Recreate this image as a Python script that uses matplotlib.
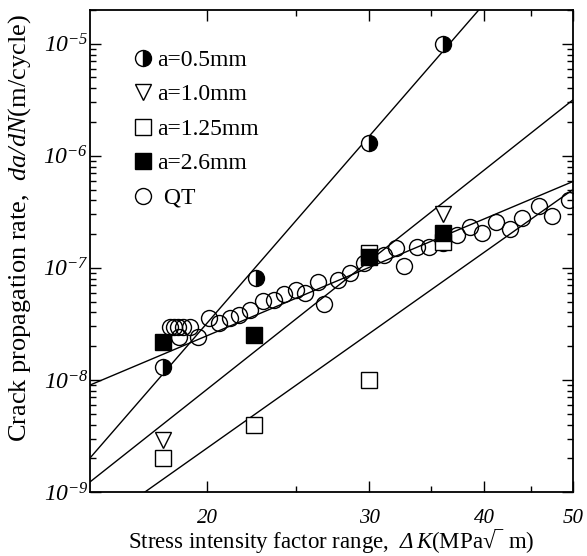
import matplotlib
matplotlib.use("Agg")
import matplotlib.pyplot as plt
from matplotlib.ticker import FixedLocator, FixedFormatter, LogLocator, NullFormatter
import numpy as np

plt.rcParams['font.family'] = ['Liberation Serif', 'DejaVu Serif']
plt.rcParams['mathtext.fontset'] = 'custom'
plt.rcParams['mathtext.rm'] = 'Liberation Serif:italic'
plt.rcParams['mathtext.it'] = 'Liberation Serif:italic'
plt.rcParams['mathtext.bf'] = 'Liberation Serif:bold'
plt.rcParams['mathtext.default'] = 'it'

# ---- data ----
a05_x = [17.9, 22.6, 30.0, 36.1]
a05_y = [1.31e-8, 8.1e-8, 1.3e-6, 1.0e-5]

a10_x = [17.9, 36.1]
a10_y = [2.91e-9, 3.03e-7]

a125_x = [17.9, 22.5, 30.0, 30.0, 36.1]
a125_y = [2.0e-9, 3.96e-9, 1.0e-8, 1.36e-7, 1.71e-7]

a26_x = [17.9, 22.5, 30.0, 36.1]
a26_y = [2.18e-8, 2.52e-8, 1.25e-7, 2.05e-7]

qt_x = [18.22, 18.40, 18.60, 18.83, 19.16, 18.64, 19.55, 20.10, 20.61, 21.14,
        21.62, 22.23, 22.97, 23.62, 24.23, 24.96, 25.54, 26.38, 26.79, 27.75,
        28.60, 29.62, 31.16, 32.12, 32.77, 33.78, 34.82, 36.06, 37.36, 38.60,
        39.78, 41.22, 42.70, 44.00, 45.92, 47.46, 49.52]
qt_y = [2.97e-8, 2.97e-8, 2.97e-8, 2.97e-8, 2.97e-8, 2.42e-8, 2.42e-8, 3.58e-8, 3.23e-8, 3.58e-8,
        3.80e-8, 4.22e-8, 5.07e-8, 5.18e-8, 5.86e-8, 6.37e-8, 5.98e-8, 7.50e-8, 4.77e-8, 7.82e-8,
        9.02e-8, 1.11e-7, 1.31e-7, 1.51e-7, 1.04e-7, 1.54e-7, 1.54e-7, 1.67e-7, 1.97e-7, 2.32e-7,
        2.05e-7, 2.58e-7, 2.23e-7, 2.79e-7, 3.58e-7, 2.91e-7, 4.05e-7]

# fitted lines (end points)
fit1_x = [14.9, 39.5]
fit1_y = [2.01e-9, 2.01e-5]
fit2_x = [14.9, 50.0]
fit2_y = [1.23e-9, 3.16e-6]
fit3_x = [14.9, 50.0]
fit3_y = [9.0e-9, 5.9e-7]
fit4_x = [17.1, 50.0]
fit4_y = [1.0e-9, 5.0e-7]

x_major = [20, 30, 40, 50]
x_major_labels = ['20', '30', '40', '50']
x_minor = [25, 35, 45]
y_major = [1e-9, 1e-8, 1e-7, 1e-6, 1e-5]
y_major_labels = [r'$10^{-9}$', r'$10^{-8}$', r'$10^{-7}$', r'$10^{-6}$', r'$10^{-5}$']

# ---- figure ----
fig = plt.figure(figsize=(5.87, 5.56), dpi=100)
ax = fig.add_axes([90/587, 1-492/556, (573-90)/587, (492-10)/556])
ax.set_xscale('log')
ax.set_yscale('log')

lw = 1.0
for fx, fy in [(fit1_x, fit1_y), (fit2_x, fit2_y), (fit3_x, fit3_y), (fit4_x, fit4_y)]:
    ax.plot(fx, fy, color='black', lw=lw, zorder=2)

ms = 11.5
ax.plot(qt_x, qt_y, linestyle='none', marker='o', ms=ms, mfc='none', mec='black', mew=1.0,
        label=' QT', zorder=3)
ax.plot(a125_x, a125_y, linestyle='none', marker='s', ms=ms, mfc='white', mec='black', mew=1.0,
        label='a=1.25mm', zorder=4)
ax.plot(a26_x, a26_y, linestyle='none', marker='s', ms=ms, mfc='black', mec='black', mew=1.0,
        label='a=2.6mm', zorder=5)
ax.plot(a10_x, a10_y, linestyle='none', marker='v', ms=ms, mfc='white', mec='black', mew=1.0,
        label='a=1.0mm', zorder=5)
ax.plot(a05_x, a05_y, linestyle='none', marker='o', ms=ms, fillstyle='right', mfc='black',
        markerfacecoloralt='white', mec='black', mew=1.0, label='a=0.5mm', zorder=6)

ax.set_xlim(14.9, 50)
ax.set_ylim(1e-9, 2.0e-5)

ax.xaxis.set_major_locator(FixedLocator(x_major))
ax.xaxis.set_major_formatter(FixedFormatter(x_major_labels))
ax.xaxis.set_minor_locator(FixedLocator(x_minor))
ax.xaxis.set_minor_formatter(NullFormatter())
ax.yaxis.set_major_locator(FixedLocator(y_major))
ax.yaxis.set_major_formatter(FixedFormatter(y_major_labels))
ax.yaxis.set_minor_locator(LogLocator(base=10, subs=np.arange(2, 10)))
ax.yaxis.set_minor_formatter(NullFormatter())

ax.tick_params(which='both', direction='in', top=True, right=True, width=1.0)
ax.tick_params(which='major', length=8)
ax.tick_params(which='minor', length=4)
for lab in ax.get_xticklabels():
    lab.set_fontstyle('italic')
    lab.set_fontsize(15)
for lab in ax.get_yticklabels():
    lab.set_fontsize(17)
ax.tick_params(axis='x', pad=12)
ax.tick_params(axis='y', pad=1)
for sp in ax.spines.values():
    sp.set_linewidth(1.3)

ax.set_xlabel('Stress intensity factor range,  $\\Delta\\,K$(MPa\u221a\u203e m)', fontsize=16.5)
ax.xaxis.set_label_coords(0.5, -0.073)
ax.set_ylabel(r'Crack propagation rate,  $da/dN$(m/cycle)', fontsize=19)
ax.yaxis.set_label_coords(-0.118, 0.548)

handles, labels = ax.get_legend_handles_labels()
order = ['a=0.5mm', 'a=1.0mm', 'a=1.25mm', 'a=2.6mm', ' QT']
hmap = dict(zip(labels, handles))
leg = ax.legend([hmap[k] for k in order], order, loc='upper left',
                bbox_to_anchor=(0.0714, 0.938), frameon=False, fontsize=17,
                handlelength=0.8, handletextpad=0.2, labelspacing=0.55, borderaxespad=0)

fig.savefig('out.png', dpi=100)
